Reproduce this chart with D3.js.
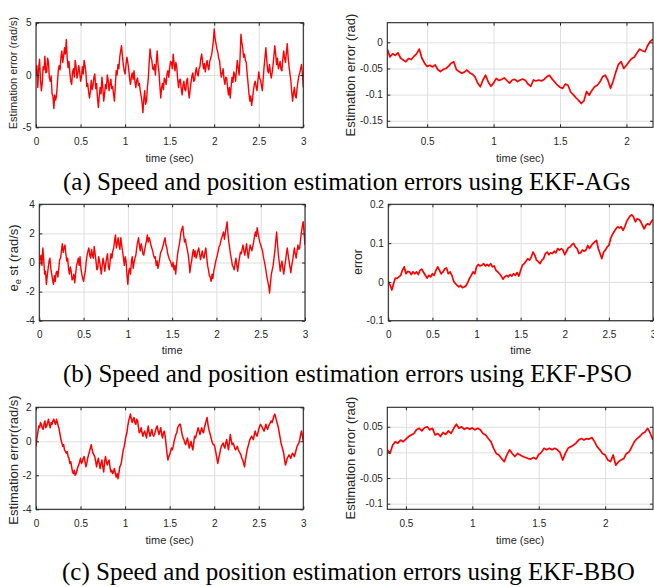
<!DOCTYPE html>
<html>
<head>
<meta charset="utf-8">
<script src="https://cdn.jsdelivr.net/npm/d3@7"></script>
<style>
  body { margin: 0; background: #fff; }
  svg { display: block; font-family: "Liberation Sans", Arial, Helvetica, sans-serif; }
</style>
</head>
<body>
<svg id="fig" width="654" height="587"></svg>
<script>
// ---------------------------------------------------------------
// Estimation-error traces. Speed errors every 0.01 s, position
// errors every 0.02 s; each trace spans the time window beside it.
// ---------------------------------------------------------------

// (a) EKF-AGs
const speedTimeAGs = [0, 3];
const speedErrAGs = [
  0.0,0.9,-1.2,0.6,1.5,-0.4,-1.5,-0.8,0.8,0.5,1.8,0.2,0.3,1.6,1.2,-0.3,-0.6,-0.1,-1.8,-2.0,
  -3.2,-1.9,-2.4,-2.0,-0.8,0.4,0.9,0.5,1.7,2.3,1.2,1.8,2.6,2.0,3.4,1.6,0.7,1.3,0.2,-0.6,
  -0.9,0.3,0.6,-0.2,1.4,0.8,-0.3,0.2,0.9,0.3,-0.6,-0.2,0.8,0.1,1.4,0.9,0.2,-1.1,-0.8,-1.6,
  -2.2,-1.6,-0.5,-1.4,-1.0,-0.2,0.1,-1.3,-0.8,-2.2,-3.1,-2.0,-1.2,-1.8,-0.2,-1.2,-2.5,-1.8,-0.9,-1.3,
  0.0,-0.5,-1.5,-0.9,-0.4,-1.3,-1.1,-1.8,-2.5,-1.0,0.4,0.0,1.0,0.6,1.7,2.3,2.8,1.8,1.0,0.4,
  0.1,1.0,1.7,1.2,0.6,-0.3,-0.9,-0.2,0.2,-0.4,0.4,-0.6,-1.2,-0.5,-0.3,-1.0,-0.8,-1.5,-2.0,-2.6,
  -3.6,-2.3,-1.5,-2.8,-2.5,-1.2,-0.4,1.2,2.5,1.7,1.4,0.6,0.5,1.0,0.0,1.2,2.3,1.0,0.3,-1.0,
  -2.2,-1.2,-0.8,-1.4,-0.3,-0.5,-0.9,0.1,0.4,-0.2,0.7,1.3,1.2,0.6,2.0,1.1,0.4,1.2,0.7,-0.4,
  -1.2,-0.5,-0.4,-1.3,-1.9,-1.0,-0.6,-1.4,-1.5,-0.6,-0.3,-1.5,-2.2,-1.4,-0.7,-0.1,0.2,-0.6,-0.5,0.3,
  0.7,0.1,-0.1,0.6,0.8,1.6,2.0,1.2,0.6,1.1,0.3,0.9,1.4,0.8,0.5,1.3,1.6,1.9,2.5,3.2,
  4.4,3.5,3.0,2.5,2.2,1.6,1.4,0.4,-0.2,0.2,0.6,-0.4,-0.9,-0.2,-0.3,-1.2,-1.9,-1.2,-2.2,-1.1,
  -0.2,-0.7,0.3,0.0,-0.6,0.5,1.4,0.6,0.0,1.6,3.9,3.1,2.6,1.7,2.0,1.4,1.2,0.1,-0.8,-1.8,
  -2.5,-2.0,-2.9,-2.3,-1.5,-0.9,-0.6,-1.1,-1.5,-0.6,0.3,-0.3,-0.5,-1.0,-1.5,-0.3,0.8,1.7,2.6,1.4,
  0.4,0.2,1.0,0.3,-0.3,0.2,0.9,1.8,2.8,2.0,1.0,1.6,0.6,0.9,1.3,0.5,0.4,1.5,2.3,1.6,
  1.2,2.1,3.0,1.7,0.8,0.1,-0.5,-1.6,-2.5,-1.7,-1.2,-2.0,-2.2,-1.3,-0.6,-0.1,0.2,0.6,1.0,0.1,
  -1.2
];
const posTimeAGs = [0.2, 2.2];
const posErrAGs = [
  -0.013,-0.028,-0.022,-0.025,-0.020,-0.030,-0.034,-0.037,-0.031,-0.033,
  -0.027,-0.022,-0.013,-0.030,-0.040,-0.046,-0.044,-0.047,-0.043,-0.052,
  -0.056,-0.052,-0.050,-0.046,-0.040,-0.037,-0.052,-0.056,-0.059,-0.057,
  -0.053,-0.058,-0.061,-0.066,-0.078,-0.085,-0.072,-0.063,-0.076,-0.084,
  -0.078,-0.069,-0.073,-0.071,-0.068,-0.073,-0.078,-0.072,-0.071,-0.075,
  -0.072,-0.070,-0.073,-0.080,-0.084,-0.072,-0.074,-0.072,-0.074,-0.071,
  -0.066,-0.063,-0.070,-0.076,-0.082,-0.086,-0.088,-0.080,-0.082,-0.095,
  -0.100,-0.106,-0.111,-0.117,-0.112,-0.094,-0.101,-0.092,-0.085,-0.082,
  -0.076,-0.066,-0.063,-0.072,-0.088,-0.074,-0.057,-0.042,-0.037,-0.050,
  -0.044,-0.037,-0.031,-0.028,-0.020,-0.013,-0.016,-0.018,-0.006,0.002,
  0.006
];

// (b) EKF-PSO
const speedTimePSO = [0, 3];
const speedErrPSO = [
  -0.4,0.3,0.5,-0.2,1.0,0.2,-0.8,-0.6,-1.5,-0.9,-0.4,0.1,0.3,-0.4,-0.8,-1.2,-1.5,-0.9,-1.3,-0.7,
  -0.6,-1.0,-0.4,0.2,0.3,0.8,1.3,0.7,1.0,1.2,0.6,0.1,0.3,-0.4,-0.8,-0.3,-0.6,-1.2,-1.1,-0.8,
  -1.4,-0.8,-0.2,0.0,0.3,-0.2,0.4,-0.4,-0.8,-1.1,-1.3,-0.9,-0.6,0.1,0.5,0.8,1.0,0.5,0.3,0.9,
  0.5,0.3,1.1,0.6,0.1,-0.5,-0.4,0.4,0.1,-0.3,-0.8,-0.2,0.3,-0.1,-0.6,-0.1,0.3,0.6,-0.3,-0.5,
  0.1,0.6,0.3,0.8,1.0,1.5,1.9,1.0,1.3,1.7,1.2,0.9,1.7,1.2,0.8,0.3,-0.2,0.4,0.1,-0.9,
  -1.5,-0.6,-0.4,-0.8,0.1,0.4,-0.4,0.0,0.3,0.5,1.0,1.4,1.7,1.2,0.8,1.3,1.0,0.6,0.5,0.9,
  1.2,1.5,1.9,1.4,1.7,1.5,1.2,1.0,0.8,0.5,0.3,0.4,-0.2,0.1,-0.4,-0.1,0.3,0.7,0.8,1.0,
  1.2,1.5,1.7,1.2,1.0,0.6,0.4,0.2,0.1,-0.1,-0.3,0.0,-0.5,-0.2,-0.8,-0.1,0.5,0.9,1.2,1.6,
  2.1,2.3,2.5,1.9,1.4,1.6,1.2,0.9,0.6,0.1,-0.7,-0.2,0.1,0.6,0.9,0.4,0.8,0.3,0.5,0.8,
  1.0,0.6,0.2,0.5,0.8,0.4,0.3,0.7,1.0,0.4,-0.2,-0.5,-0.9,-1.0,-1.3,-0.8,-1.1,-0.6,-0.3,0.0,
  0.3,0.5,0.8,1.1,1.2,1.5,1.7,1.9,2.1,1.6,2.0,2.4,2.8,2.0,1.4,1.0,0.5,0.2,-0.2,-0.3,
  -0.5,-0.1,0.3,-0.2,-0.6,-0.1,0.3,0.7,0.6,0.9,1.2,0.8,0.5,0.9,1.3,0.7,0.3,0.8,1.2,1.0,
  0.8,1.1,1.4,1.8,2.1,1.8,2.4,2.0,1.7,1.4,1.2,1.0,0.8,0.4,0.1,-0.2,-0.6,-1.0,-1.3,-1.6,
  -2.1,-1.4,-0.8,-0.5,-0.2,0.3,0.8,1.5,2.1,1.2,0.5,0.0,-0.6,-0.2,0.1,-0.4,-0.8,-0.3,0.1,0.6,
  1.0,0.5,0.1,-0.3,-0.7,-0.2,0.1,0.6,1.0,0.6,0.3,0.8,1.2,0.9,1.0,1.6,2.1,2.5,2.8,2.0,
  1.2
];
const posTimePSO = [0, 3];
const posErrPSO = [
  0.000,-0.008,-0.021,-0.004,0.010,0.009,0.013,0.017,0.030,0.039,
  0.021,0.027,0.026,0.019,0.026,0.021,0.026,0.019,0.030,0.033,
  0.024,0.017,0.010,0.017,0.013,0.021,0.017,0.030,0.039,0.030,
  0.021,0.026,0.034,0.036,0.021,0.026,0.017,0.002,-0.004,-0.009,
  -0.013,-0.009,-0.015,-0.013,-0.010,-0.002,0.009,0.017,0.026,0.021,
  0.039,0.045,0.041,0.043,0.047,0.041,0.045,0.041,0.047,0.039,
  0.041,0.030,0.026,0.021,0.015,0.007,0.013,0.017,0.013,0.019,
  0.015,0.021,0.017,0.024,0.015,0.030,0.043,0.047,0.053,0.060,
  0.056,0.064,0.077,0.069,0.056,0.052,0.047,0.056,0.060,0.073,
  0.077,0.070,0.075,0.073,0.079,0.075,0.086,0.082,0.086,0.082,
  0.070,0.079,0.088,0.090,0.096,0.099,0.090,0.086,0.073,0.075,
  0.082,0.079,0.082,0.094,0.086,0.093,0.099,0.103,0.107,0.086,
  0.073,0.060,0.077,0.082,0.090,0.094,0.112,0.122,0.130,0.137,
  0.142,0.139,0.142,0.133,0.142,0.155,0.163,0.170,0.173,0.167,
  0.155,0.163,0.161,0.156,0.146,0.137,0.146,0.150,0.147,0.155,
  0.161
];

// (c) EKF-BBO
const speedTimeBBO = [0, 3];
const speedErrBBO = [
  -0.3,0.2,0.5,0.9,0.8,1.1,1.0,0.8,0.7,1.0,1.2,0.8,0.9,1.1,1.3,1.0,0.8,1.1,1.0,1.2,
  1.3,1.1,1.0,1.3,1.1,0.9,0.7,0.4,0.1,-0.1,-0.3,-0.2,-0.5,-0.6,-0.7,-0.6,-0.9,-1.0,-1.3,-1.2,
  -1.5,-1.8,-1.9,-1.7,-2.0,-1.9,-1.7,-1.5,-1.4,-1.2,-1.0,-1.3,-1.2,-1.0,-0.9,-1.2,-1.5,-1.3,-1.0,-0.8,
  -0.6,-0.4,-0.2,-0.5,-0.7,-0.8,-0.9,-1.2,-1.5,-1.2,-1.0,-1.3,-1.6,-1.3,-1.1,-1.5,-1.8,-1.2,-0.9,-1.2,
  -1.4,-1.2,-1.1,-1.5,-1.8,-1.7,-1.9,-1.8,-1.6,-1.9,-2.1,-1.9,-2.2,-1.9,-1.5,-1.4,-1.2,-0.8,-0.5,-0.3,
  0.0,0.3,0.5,0.9,1.2,1.4,1.6,1.3,1.1,1.3,1.4,1.1,1.0,1.3,1.2,0.8,0.5,0.6,0.8,0.5,
  0.3,0.5,0.6,0.4,0.2,0.6,0.9,0.5,0.3,0.5,0.7,0.4,0.3,0.4,0.6,0.8,0.9,0.6,0.4,0.6,
  0.8,0.4,0.2,0.5,0.6,0.3,-0.2,-0.7,-1.1,-0.9,-0.8,-0.6,-0.4,-0.5,-0.3,0.0,0.2,0.4,0.5,0.8,
  0.9,1.0,1.0,0.7,0.4,0.2,0.1,-0.1,-0.2,0.0,0.2,-0.1,-0.4,-0.2,0.0,-0.3,-0.5,-0.1,0.3,0.2,
  0.4,0.6,0.8,0.6,0.4,0.6,0.8,0.6,0.5,0.8,1.0,1.2,1.4,1.0,0.7,0.5,0.3,0.1,-0.1,-0.2,
  -0.2,-0.4,-0.7,-1.0,-1.3,-1.0,-0.8,-0.5,-0.3,-0.2,-0.1,-0.3,-0.4,-0.1,0.1,-0.2,-0.5,-0.1,0.4,0.1,
  -0.2,-0.1,-0.2,-0.4,-0.5,-0.4,-0.3,-0.5,-0.6,-0.7,-0.8,-1.0,-1.1,-1.3,-1.5,-1.1,-0.8,-0.5,-0.3,-0.1,
  0.1,0.2,0.3,0.2,0.1,0.4,0.6,0.4,0.3,0.5,0.7,0.9,1.0,0.9,0.8,0.7,0.6,0.8,1.0,0.8,
  0.7,0.9,1.0,1.1,1.2,1.1,1.3,1.5,1.6,1.4,1.2,1.0,0.8,0.5,0.2,-0.1,-0.3,-0.5,-0.7,-1.1,
  -1.4,-1.2,-1.0,-0.9,-0.8,-0.9,-1.0,-0.8,-0.7,-0.8,-0.9,-0.7,-0.5,-0.3,-0.2,-0.1,0.1,0.4,0.6,0.3,
  0.0
];
const posTimeBBO = [0.36, 2.36];
const posErrBBO = [
  0.005,-0.002,0.014,0.021,0.018,0.024,0.021,0.026,0.031,0.034,
  0.037,0.044,0.047,0.042,0.048,0.050,0.044,0.047,0.034,0.037,
  0.031,0.039,0.035,0.042,0.037,0.047,0.055,0.047,0.050,0.045,
  0.048,0.045,0.048,0.044,0.047,0.044,0.037,0.034,0.027,0.021,
  0.008,-0.002,-0.005,-0.012,-0.018,-0.005,0.005,-0.002,-0.008,-0.002,
  -0.005,-0.008,-0.010,-0.012,-0.013,-0.010,-0.013,-0.004,0.000,0.008,
  0.005,0.008,0.005,0.008,0.005,0.000,-0.015,-0.002,0.008,0.011,
  0.014,0.018,0.024,0.027,0.024,0.027,0.026,0.029,0.021,0.011,
  0.005,-0.002,-0.005,-0.015,-0.018,-0.005,-0.025,-0.018,-0.015,-0.012,
  -0.002,0.001,0.011,0.021,0.027,0.031,0.037,0.040,0.047,0.037,
  0.024
];

// Tick labels
const xTicksFull = [0, 0.5, 1, 1.5, 2, 2.5, 3];
const xTicksZoom = [0.5, 1, 1.5, 2];
const yTicksSpeedAGs = [-5, 0, 5];
const yTicksPosAGs = [-0.15, -0.1, -0.05, 0];
const yTicksSpeedPSO = [-4, -2, 0, 2, 4];
const yTicksPosPSO = [-0.1, 0, 0.1, 0.2];
const yTicksSpeedBBO = [-4, -2, 0, 2];
const yTicksPosBBO = [-0.1, -0.05, 0, 0.05];

const captions = [
  "(a) Speed and position estimation errors using EKF-AGs",
  "(b) Speed and position estimation errors using EKF-PSO",
  "(c) Speed and position estimation errors using EKF-BBO"
];

// ---------------------------------------------------------------
// Layout of the six axes
// ---------------------------------------------------------------
const panels = [
  { box: [36, 22.7, 303.3, 127.3], xDom: [0, 3], yDom: [-5, 5],
    time: speedTimeAGs, vals: speedErrAGs, xTicks: xTicksFull, yTicks: yTicksSpeedAGs,
    xLabel: "time (sec)", xLabelY: 161.5, yLabel: [["Estimation error (rad/s)"]],
    yLabelX: 12.8, yLabelY: 73, yLabelSize: 11, width: 1.4 },
  { box: [387.3, 22.7, 653, 127.3], xDom: [0.2, 2.2], yDom: [-0.1625, 0.0375],
    time: posTimeAGs, vals: posErrAGs, xTicks: xTicksZoom, yTicks: yTicksPosAGs,
    xLabel: "time (sec)", xLabelY: 161.5, yLabel: [["Estimation error (rad)"]],
    yLabelX: 350, yLabelY: 75, yLabelSize: 13, width: 1.7 },
  { box: [39.3, 204.3, 305, 320.7], xDom: [0, 3], yDom: [-4, 4],
    time: speedTimePSO, vals: speedErrPSO, xTicks: xTicksFull, yTicks: yTicksSpeedPSO,
    xLabel: "time", xLabelY: 354, yLabel: [["e"], ["e", "sub"], [" st (rad/s)"]],
    yLabelX: 13, yLabelY: 258, yLabelSize: 13, width: 1.4 },
  { box: [388.3, 204.3, 653, 320.7], xDom: [0, 3], yDom: [-0.1, 0.2],
    time: posTimePSO, vals: posErrPSO, xTicks: xTicksFull, yTicks: yTicksPosPSO,
    xLabel: "time", xLabelY: 354, yLabel: [["error"]],
    yLabelX: 357.5, yLabelY: 262, yLabelSize: 12, width: 1.7 },
  { box: [36, 407.3, 303.3, 509.3], xDom: [0, 3], yDom: [-4, 2],
    time: speedTimeBBO, vals: speedErrBBO, xTicks: xTicksFull, yTicks: yTicksSpeedBBO,
    xLabel: "time (sec)", xLabelY: 543.5, yLabel: [["Estimation error(rad/s)"]],
    yLabelX: 13, yLabelY: 460, yLabelSize: 13, width: 1.5 },
  { box: [387.3, 407.3, 653, 509.3], xDom: [0.36, 2.36], yDom: [-0.111, 0.088],
    time: posTimeBBO, vals: posErrBBO, xTicks: xTicksZoom, yTicks: yTicksPosBBO,
    xLabel: "time (sec)", xLabelY: 543.5, yLabel: [["Estimation error (rad)"]],
    yLabelX: 350, yLabelY: 458, yLabelSize: 13, width: 1.7 }
];

const captionLayout = [
  { x: 63, y: 189.5 },
  { x: 63, y: 382 },
  { x: 62, y: 580 }
];

const INK = "#262626";
const GRID = "#dedede";
const RED = "#ff0000";
const tickText = v => String(v);

const svg = d3.select("#fig");
const defs = svg.append("defs");

panels.forEach((p, i) => {
  const [x0, y0, x1, y1] = p.box;
  const w = x1 - x0, h = y1 - y0;
  const x = d3.scaleLinear().domain(p.xDom).range([0, w]);
  const y = d3.scaleLinear().domain(p.yDom).range([h, 0]);
  const g = svg.append("g").attr("transform", `translate(${x0},${y0})`);

  // grid
  const gx = g.append("g").attr("transform", `translate(0,${h})`)
    .call(d3.axisBottom(x).tickValues(p.xTicks).tickSize(-h).tickFormat(""));
  const gy = g.append("g")
    .call(d3.axisLeft(y).tickValues(p.yTicks).tickSize(-w).tickFormat(""));
  [gx, gy].forEach(a => {
    a.select(".domain").remove();
    a.selectAll("line").attr("stroke", GRID).attr("stroke-width", 1);
  });

  // trace: samples evenly spread over the trace's time window
  defs.append("clipPath").attr("id", `clip${i}`)
    .append("rect").attr("width", w).attr("height", h);
  const n = p.vals.length;
  const tAt = d3.scaleLinear().domain([0, n - 1]).range(p.time);
  const pts = p.vals.map((v, k) => ({ t: tAt(k), v }));
  g.append("path")
    .datum(pts)
    .attr("clip-path", `url(#clip${i})`)
    .attr("fill", "none")
    .attr("stroke", RED)
    .attr("stroke-width", p.width)
    .attr("stroke-linejoin", "round")
    .attr("d", d3.line().x(d => x(d.t)).y(d => y(d.v)));

  // axes with inward ticks on all four sides
  const styleAxis = a => {
    a.select(".domain").remove();
    a.selectAll("line").attr("stroke", INK).attr("stroke-width", 1);
    a.selectAll("text").attr("fill", INK).attr("font-size", 10)
      .attr("font-family", '"Liberation Sans", Arial, sans-serif');
  };
  styleAxis(g.append("g").attr("transform", `translate(0,${h})`)
    .call(d3.axisBottom(x).tickValues(p.xTicks).tickSizeInner(-3).tickSizeOuter(0)
      .tickPadding(10.5).tickFormat(tickText)));
  styleAxis(g.append("g")
    .call(d3.axisTop(x).tickValues(p.xTicks).tickSizeInner(-3).tickSizeOuter(0).tickFormat("")));
  styleAxis(g.append("g")
    .call(d3.axisLeft(y).tickValues(p.yTicks).tickSizeInner(-3).tickSizeOuter(0)
      .tickPadding(4.5).tickFormat(tickText)));
  styleAxis(g.append("g").attr("transform", `translate(${w},0)`)
    .call(d3.axisRight(y).tickValues(p.yTicks).tickSizeInner(-3).tickSizeOuter(0).tickFormat("")));

  // frame
  g.append("rect").attr("width", w).attr("height", h)
    .attr("fill", "none").attr("stroke", INK).attr("stroke-width", 1.1);

  // axis titles
  svg.append("text")
    .attr("x", x0 + w / 2).attr("y", p.xLabelY)
    .attr("text-anchor", "middle").attr("font-size", 11).attr("fill", INK)
    .text(p.xLabel);

  const yl = svg.append("text")
    .attr("transform", `translate(${p.yLabelX},${p.yLabelY}) rotate(-90)`)
    .attr("text-anchor", "middle").attr("dy", "0.35em")
    .attr("font-size", p.yLabelSize).attr("fill", INK);
  let shifted = 0;
  p.yLabel.forEach(([txt, kind]) => {
    const ts = yl.append("tspan").text(txt);
    if (kind === "sub") {
      ts.attr("font-size", p.yLabelSize * 0.7).attr("dy", 3.5);
      shifted = 3.5;
    } else if (shifted) {
      ts.attr("dy", -shifted);
      shifted = 0;
    }
  });
});

// captions
captions.forEach((c, i) => {
  svg.append("text")
    .attr("x", captionLayout[i].x).attr("y", captionLayout[i].y)
    .attr("font-family", '"Liberation Serif", "Times New Roman", serif')
    .attr("font-size", 25).attr("fill", "#000")
    .text(c);
});
</script>
</body>
</html>
